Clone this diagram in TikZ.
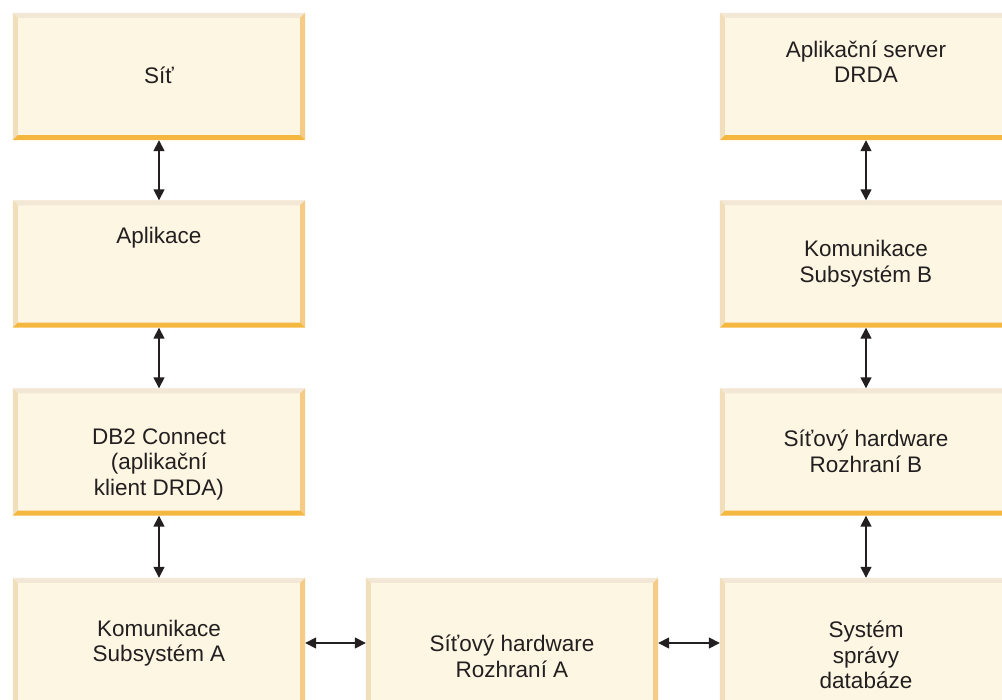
\documentclass[tikz,border=0pt]{standalone}
\usepackage{fontspec}
\setmainfont{Liberation Sans}
\usetikzlibrary{arrows.meta,calc}
\definecolor{boxfill}{HTML}{FDF6E3}
\definecolor{edgetop}{HTML}{F3E8D5}
\definecolor{edgeleft}{HTML}{F1DFBC}
\definecolor{edgeright}{HTML}{F5CB85}
\definecolor{edgebottom}{HTML}{F4B740}
\definecolor{textgray}{HTML}{231F20}

\begin{document}
\begin{tikzpicture}[x=1pt,y=-1pt,
    box/.style={rectangle,fill=boxfill,minimum width=292pt,minimum height=127pt,inner sep=0pt},
    txt/.style={align=center,font=\fontsize{22.5}{25.5}\selectfont,text=textgray,inner sep=0pt},
    link/.style={{Triangle[width=11pt,length=11pt]}-{Triangle[width=11pt,length=11pt]},line width=1.6pt,draw=textgray}]
  \useasboundingbox (0,0) rectangle (1002,700);
  \clip (0,0) rectangle (1002,700);
  % boxes
  \node[box] (sit) at (159,76.5) {};
  \node[box] (aplikace) at (159,264) {};
  \node[box] (db2) at (159,452) {};
  \node[box] (komA) at (159,641.5) {};
  \node[box] (hwA) at (512,641.5) {};
  \node[box] (spravce) at (866,641.5) {};
  \node[box] (hwB) at (866,452) {};
  \node[box] (komB) at (866,264) {};
  \node[box] (server) at (866,76.5) {};
  % bevelled edges
  \foreach \b in {sit,aplikace,db2,komA,hwA,spravce,hwB,komB,server} {
    \fill[edgetop] (\b.north west) -- (\b.north east) -- ($(\b.north east)+(-5,5)$) -- ($(\b.north west)+(5,5)$) -- cycle;
    \fill[edgeleft] (\b.north west) -- ($(\b.north west)+(5,5)$) -- ($(\b.south west)+(5,-5)$) -- (\b.south west) -- cycle;
    \fill[edgeright] (\b.north east) -- (\b.south east) -- ($(\b.south east)+(-5,-5)$) -- ($(\b.north east)+(-5,5)$) -- cycle;
    \fill[edgebottom] (\b.south west) -- (\b.south east) -- ($(\b.south east)+(-5,-5)$) -- ($(\b.south west)+(5,-5)$) -- cycle;
  }
  % labels
  \node[txt] (sit-t) at (159,75) {Síť};
  \node[txt] (aplikace-t) at (159,238) {Aplikace};
  \node[txt] (db2-t) at (159,464) {DB2 Connect\\(aplikační\\klient DRDA)};
  \node[txt] (komA-t) at (159,643) {Komunikace\\Subsystém A};
  \node[txt] (hwA-t) at (512,656.5) {Síťový hardware\\Rozhraní A};
  \node[txt] (spravce-t) at (866,655) {Systém\\správy\\databáze};
  \node[txt] (hwB-t) at (866,451.5) {Síťový hardware\\Rozhraní B};
  \node[txt] (komB-t) at (866,263.5) {Komunikace\\Subsystém B};
  \node[txt] (server-t) at (866,61.5) {Aplikační server\\DRDA};
  % connectors
  \draw[link] (sit.south) -- (aplikace.north);
  \draw[link] (aplikace.south) -- (db2.north);
  \draw[link] (db2.south) -- (komA.north);
  \draw[link] ($(komA.east)+(0,1.5)$) -- ($(hwA.west)+(0,1.5)$);
  \draw[link] ($(hwA.east)+(0,1.5)$) -- ($(spravce.west)+(0,1.5)$);
  \draw[link] (spravce.north) -- (hwB.south);
  \draw[link] (hwB.north) -- (komB.south);
  \draw[link] (komB.north) -- (server.south);
\end{tikzpicture}
\end{document}
